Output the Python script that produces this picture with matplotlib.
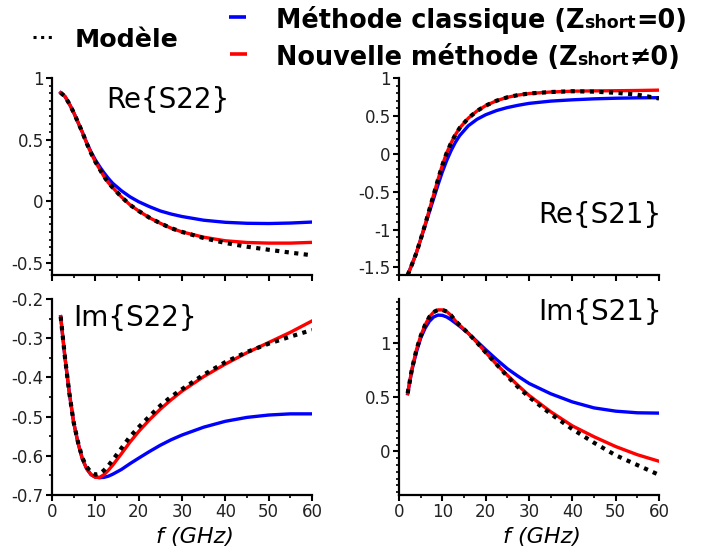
import matplotlib
matplotlib.use('Agg')
import matplotlib.pyplot as plt
from matplotlib.lines import Line2D
from matplotlib.ticker import MultipleLocator

plt.rcParams['font.family'] = 'DejaVu Sans'
plt.rcParams['axes.unicode_minus'] = False

# frequency grid (GHz)
f = [2, 3, 4, 5, 6, 7, 8, 9, 10, 11, 12, 13, 14, 16, 18, 20, 22.5, 25, 27.5, 30, 35, 40, 45, 50, 55, 60]

# Re{S22}
re22_model = [0.88, 0.85, 0.79, 0.72, 0.64, 0.56, 0.47, 0.39, 0.32, 0.26, 0.20, 0.15, 0.11, 0.035, -0.03, -0.08,
              -0.135, -0.18, -0.22, -0.25, -0.30, -0.34, -0.37, -0.395, -0.418, -0.44]
re22_new = [0.88, 0.85, 0.79, 0.72, 0.64, 0.56, 0.47, 0.39, 0.32, 0.26, 0.20, 0.15, 0.11, 0.035, -0.03, -0.08,
            -0.135, -0.18, -0.22, -0.25, -0.293, -0.322, -0.336, -0.341, -0.341, -0.335]
re22_classic = [0.88, 0.85, 0.79, 0.72, 0.64, 0.56, 0.475, 0.40, 0.335, 0.28, 0.23, 0.185, 0.145, 0.085, 0.035, -0.005,
                -0.045, -0.08, -0.105, -0.125, -0.155, -0.172, -0.18, -0.182, -0.178, -0.17]

# Re{S21}
re21_model = [-1.60, -1.46, -1.31, -1.13, -0.94, -0.74, -0.54, -0.34, -0.15, 0.01, 0.14, 0.25, 0.34, 0.47, 0.565, 0.635,
              0.70, 0.745, 0.775, 0.795, 0.815, 0.825, 0.82, 0.805, 0.78, 0.73]
re21_new = [-1.60, -1.46, -1.31, -1.13, -0.94, -0.74, -0.54, -0.34, -0.15, 0.01, 0.14, 0.25, 0.34, 0.47, 0.565, 0.635,
            0.70, 0.745, 0.775, 0.795, 0.815, 0.826, 0.83, 0.832, 0.835, 0.84]
re21_classic = [-1.60, -1.46, -1.31, -1.13, -0.95, -0.77, -0.59, -0.41, -0.24, -0.09, 0.04, 0.15, 0.24, 0.37, 0.455, 0.515,
                0.57, 0.61, 0.64, 0.665, 0.695, 0.712, 0.725, 0.733, 0.738, 0.74]

# Im{S22}
im22_model = [-0.245, -0.35, -0.44, -0.515, -0.565, -0.605, -0.628, -0.642, -0.648, -0.646, -0.637, -0.625, -0.611,
              -0.581, -0.551, -0.527, -0.499, -0.472, -0.449, -0.430, -0.393, -0.361, -0.335, -0.314, -0.296, -0.279]
im22_new = [-0.245, -0.35, -0.44, -0.515, -0.567, -0.608, -0.633, -0.648, -0.655, -0.655, -0.648, -0.637, -0.624,
            -0.595, -0.565, -0.538, -0.508, -0.481, -0.457, -0.435, -0.398, -0.366, -0.337, -0.311, -0.285, -0.256]
im22_classic = [-0.245, -0.35, -0.44, -0.515, -0.567, -0.608, -0.633, -0.648, -0.654, -0.656, -0.655, -0.652, -0.647,
                -0.635, -0.62, -0.606, -0.589, -0.573, -0.559, -0.547, -0.527, -0.512, -0.502, -0.496, -0.493, -0.493]

# Im{S21}
im21_model = [0.535, 0.76, 0.93, 1.06, 1.16, 1.235, 1.28, 1.30, 1.30, 1.285, 1.25, 1.20, 1.16, 1.085, 1.00, 0.91,
              0.80, 0.69, 0.59, 0.50, 0.345, 0.205, 0.08, -0.035, -0.125, -0.215]
im21_new = [0.535, 0.76, 0.93, 1.06, 1.16, 1.235, 1.28, 1.30, 1.30, 1.285, 1.25, 1.20, 1.16, 1.085, 1.00, 0.91,
            0.80, 0.70, 0.605, 0.515, 0.365, 0.235, 0.135, 0.045, -0.03, -0.09]
im21_classic = [0.53, 0.75, 0.91, 1.04, 1.13, 1.195, 1.235, 1.252, 1.25, 1.235, 1.21, 1.18, 1.15, 1.085, 1.01, 0.935,
                0.845, 0.76, 0.69, 0.625, 0.53, 0.455, 0.40, 0.37, 0.355, 0.352]

W, H = 713, 554
fig = plt.figure(figsize=(W / 100, H / 100), dpi=100)


def px_axes(x0, x1, ytop, ybot):
    return fig.add_axes([x0 / W, 1 - ybot / H, (x1 - x0) / W, (ybot - ytop) / H])


def fmt(v, pos):
    if abs(v) < 1e-9:
        return '0'
    return '%g' % round(v, 3)


panels = [
    # (axes box px, data, ylim, major, minor, label, label pos, ha, show x labels)
    ((52, 312, 78, 275), (re22_classic, re22_new, re22_model), (-0.6, 1.0), 0.5, 0.0625,
     'Re{S22}', (0.21, 0.888), 'left', False),
    ((399, 659, 78, 275), (re21_classic, re21_new, re21_model), (-1.6, 1.0), 0.5, 0.1,
     'Re{S21}', (1.01, 0.305), 'right', False),
    ((52, 312, 299, 495), (im22_classic, im22_new, im22_model), (-0.7, -0.2), 0.1, 0.05,
     'Im{S22}', (0.08, 0.903), 'left', True),
    ((399, 659, 299, 495), (im21_classic, im21_new, im21_model), (-0.4, 1.4), 0.5, 0.0625,
     'Im{S21}', (1.01, 0.934), 'right', True),
]

for box, (cl, nw, md), ylim, major, minor, label, lpos, ha, showx in panels:
    ax = px_axes(*box)
    ax.plot(f, cl, color='#0000ff', lw=2.4)
    ax.plot(f, nw, color='#ff0000', lw=2.4)
    ax.plot(f, md, color='black', lw=3, linestyle=(0, (1, 1.3)))
    ax.set_xlim(0, 60)
    ax.set_ylim(*ylim)
    ax.xaxis.set_major_locator(MultipleLocator(10))
    ax.xaxis.set_minor_locator(MultipleLocator(5))
    ax.yaxis.set_major_locator(MultipleLocator(major))
    ax.yaxis.set_minor_locator(MultipleLocator(minor))
    ax.yaxis.set_major_formatter(plt.FuncFormatter(fmt))
    ax.spines['top'].set_visible(False)
    ax.spines['right'].set_visible(False)
    ax.spines['left'].set_linewidth(1.6)
    ax.spines['bottom'].set_linewidth(1.6)
    ax.tick_params(which='major', direction='out', length=4, width=1.5, labelsize=12, pad=2,
                   labelcolor='#222222')
    ax.tick_params(which='minor', direction='out', length=2.5, width=1.2)
    if not showx:
        ax.tick_params(axis='x', labelbottom=False)
    else:
        ax.set_xlabel('f (GHz)', fontsize=16, style='italic', labelpad=0)
        ax.xaxis.set_label_coords(0.55, -0.165)
    ax.text(lpos[0], lpos[1], label, transform=ax.transAxes, fontsize=20, ha=ha, va='center')

# legend drawn on the figure
fig.add_artist(Line2D([33 / W, 52 / W], [1 - 37 / H] * 2, color='black', lw=2.2, linestyle=(0, (1, 1.5))))
fig.add_artist(Line2D([229 / W, 246 / W], [1 - 17 / H] * 2, color='#0000ff', lw=2.6, solid_capstyle='butt'))
fig.add_artist(Line2D([230 / W, 247 / W], [1 - 54 / H] * 2, color='#ff0000', lw=2.6, solid_capstyle='butt'))
fig.text(75 / W, 1 - 47 / H, 'Modèle', fontsize=18.2, weight='bold', va='baseline')

renderer = fig.canvas.get_renderer()


def rich_text(x, y, parts):
    for s, size in parts:
        t = fig.text(x, y, s, fontsize=size, weight='bold', va='baseline')
        bb = t.get_window_extent(renderer)
        x = bb.x1 / fig.bbox.width


rich_text(276 / W, 1 - 28 / H, [('Méthode classique (Z', 18.4), ('short', 12.5), ('=0)', 18.4)])
rich_text(276 / W, 1 - 65 / H, [('Nouvelle méthode (Z', 18.4), ('short', 12.5), ('≠0)', 18.4)])

fig.savefig('out.png', dpi=100)
